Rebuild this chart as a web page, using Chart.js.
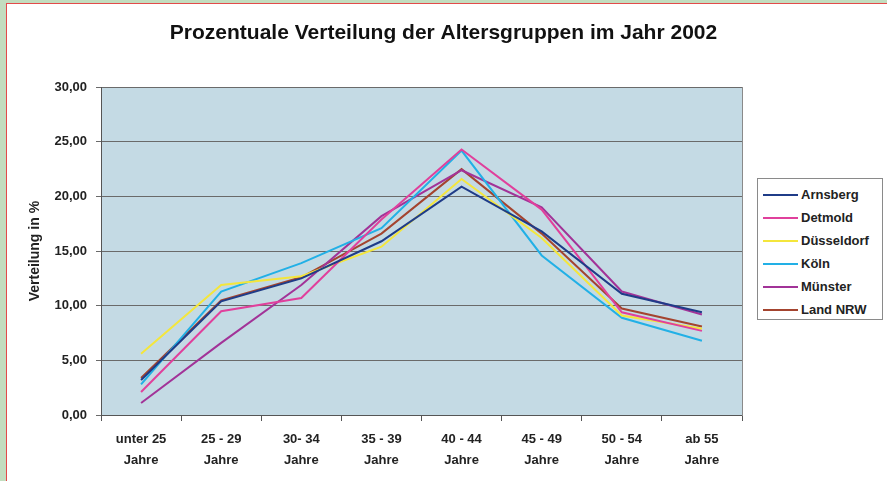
<!DOCTYPE html>
<html lang="de">
<head>
<meta charset="UTF-8">
<title>Altersgruppen 2002</title>
<script src="https://cdn.jsdelivr.net/npm/chart.js"></script>
<style>
    body { margin: 0; width: 887px; height: 481px; overflow: hidden; position: relative;
           background: #c3ddbf; font-family: "Liberation Sans", Arial, sans-serif; }
    #sheet { position: absolute; left: 6px; top: 3px; width: 900px; height: 500px; background: #fff;
             border-left: 1px solid #e34a4a; border-top: 1px solid #e34a4a; }
    canvas { position: absolute; left: 0; top: 0; }
    #legend { position: absolute; left: 757px; top: 178px; width: 126px; height: 142px;
              background: #fff; border: 1px solid #8a8a8a; box-sizing: border-box; padding-top: 4px; }
    #legend div { height: 23px; display: flex; align-items: center; font-size: 13px; font-weight: bold; color: #222; }
    #legend span.ln { display: inline-block; width: 35px; height: 2px; margin: 0 3px 0 5px; }
</style>
</head>
<body>
<div id="sheet"></div>
<canvas id="chart" width="887" height="481"></canvas>
<div id="legend"></div>

<script>
    const categories = [['unter 25', 'Jahre'], ['25 - 29', 'Jahre'], ['30- 34', 'Jahre'], ['35 - 39', 'Jahre'],
                        ['40 - 44', 'Jahre'], ['45 - 49', 'Jahre'], ['50 - 54', 'Jahre'], ['ab 55', 'Jahre']];

    const arnsberg   = [3.2, 10.4, 12.5, 15.9, 20.9, 16.8, 11.1, 9.4];
    const detmold    = [2.1, 9.5, 10.7, 17.9, 24.3, 18.8, 9.4, 7.7];
    const duesseldorf = [5.6, 11.9, 12.7, 15.4, 21.6, 16.2, 9.1, 7.9];
    const koeln      = [2.8, 11.3, 13.9, 17.1, 24.2, 14.6, 8.9, 6.8];
    const muenster   = [1.1, 6.6, 11.9, 18.2, 22.4, 19.0, 11.3, 9.2];
    const landNrw    = [3.4, 10.5, 12.6, 16.6, 22.5, 16.6, 9.75, 8.1];

    const yTicks = [0, 5, 10, 15, 20, 25, 30];

    const series = [
        { label: 'Arnsberg', data: arnsberg, color: '#1f3c88' },
        { label: 'Detmold', data: detmold, color: '#e0409c' },
        { label: 'Düsseldorf', data: duesseldorf, color: '#f4e63c' },
        { label: 'Köln', data: koeln, color: '#22b0e6' },
        { label: 'Münster', data: muenster, color: '#a23398' },
        { label: 'Land NRW', data: landNrw, color: '#a4442f' }
    ];

    // plot background
    const plotBg = {
        id: 'plotBg',
        beforeDraw(c) {
            const a = c.chartArea;
            c.ctx.save();
            c.ctx.fillStyle = '#c4dae4';
            c.ctx.fillRect(a.left, a.top, a.right - a.left, a.bottom - a.top);
            c.ctx.restore();
        }
    };

    const ctx = document.getElementById('chart').getContext('2d');
    const chart = new Chart(ctx, {
        type: 'line',
        data: {
            labels: categories,
            datasets: series.map(s => ({
                label: s.label,
                data: s.data,
                borderColor: s.color,
                borderWidth: 2,
                pointRadius: 0,
                fill: false,
                tension: 0
            }))
        },
        options: {
            responsive: false,
            animation: false,
            layout: { padding: 0 },
            plugins: {
                legend: { display: false },
                tooltip: { enabled: false },
                title: {
                    display: true,
                    text: 'Prozentuale Verteilung der Altersgruppen im Jahr 2002',
                    color: '#111',
                    font: { family: 'Liberation Sans', size: 21, weight: 'bold' },
                    padding: { top: 21, bottom: 41 }
                }
            },
            scales: {
                x: {
                    offset: true,
                    grid: { offset: true, drawOnChartArea: false, drawTicks: true, tickLength: 6, color: '#555' },
                    border: { color: '#555', width: 1 },
                    ticks: {
                        color: '#222', padding: 8,
                        font: { family: 'Liberation Sans', size: 13, weight: 'bold', lineHeight: 1.6 },
                        maxRotation: 0, autoSkip: false
                    },
                    afterFit(scale) { scale.height = 66; }
                },
                y: {
                    min: 0,
                    max: 30,
                    afterBuildTicks(scale) { scale.ticks = yTicks.map(v => ({ value: v })); },
                    grid: { color: '#6a6a6a', drawTicks: true, tickLength: 5 },
                    border: { color: '#555', width: 1 },
                    ticks: {
                        color: '#222', padding: 9,
                        font: { family: 'Liberation Sans', size: 13, weight: 'bold' },
                        callback: v => v.toFixed(2).replace('.', ',')
                    },
                    title: {
                        display: true,
                        text: 'Verteilung in %',
                        color: '#222',
                        font: { family: 'Liberation Sans', size: 14, weight: 'bold' },
                        padding: { top: 27, bottom: 0 }
                    },
                    afterFit(scale) { scale.width = 101; }
                },
                y2: {
                    position: 'right',
                    min: 0, max: 30,
                    grid: { display: false },
                    border: { color: '#8a8a8a', width: 1 },
                    ticks: { display: false },
                    afterFit(scale) { scale.width = 145; }
                }
            }
        },
        plugins: [plotBg]
    });

    // legend built from the datasets
    const legend = document.getElementById('legend');
    chart.data.datasets.forEach(ds => {
        const row = document.createElement('div');
        row.innerHTML = '<span class="ln" style="background:' + ds.borderColor + '"></span>' + ds.label;
        legend.appendChild(row);
    });
</script>
</body>
</html>
